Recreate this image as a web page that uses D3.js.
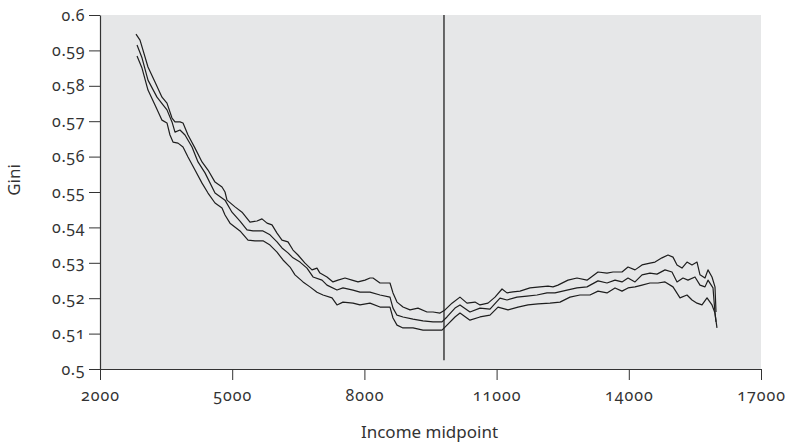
<!DOCTYPE html>
<html>
<head>
<meta charset="utf-8">
<script src="https://cdn.jsdelivr.net/npm/d3@7"></script>
<style>
  body { margin: 0; background: #fff; }
  svg text { font-family: "Noto Sans", "Open Sans", sans-serif; font-feature-settings: "onum" 1; font-variant-numeric: oldstyle-nums; fill: #333; }
</style>
</head>
<body>
<svg id="chart"></svg>
<script>
// Gini by income midpoint: estimate with upper and lower band
let xTicks = [2000, 5000, 8000, 11000, 14000, 17000]
let yTicks = [0.5, 0.51, 0.52, 0.53, 0.54, 0.55, 0.56, 0.57, 0.58, 0.59, 0.6]
let cutoff = [[9806, 0.5025], [9806, 0.6]]

let upper = [
  [2817,0.5946],[2908,0.5929],[3089,0.5853],[3248,0.5811],[3407,0.5768],[3520,0.5751],[3634,0.5709],
  [3702,0.5698],[3815,0.5698],[3884,0.5695],[3997,0.5661],[4156,0.5624],[4315,0.5585],[4451,0.5562],
  [4610,0.5528],[4769,0.5514],[4837,0.5500],[4882,0.5477],[5064,0.5458],[5223,0.5443],[5404,0.5415],
  [5563,0.5418],[5676,0.5424],[5790,0.5412],[5903,0.5407],[6017,0.5384],[6130,0.5364],[6266,0.5359],
  [6380,0.5336],[6493,0.5322],[6652,0.5299],[6811,0.5280],[6924,0.5285],[6992,0.5271],[7151,0.5260],
  [7287,0.5246],[7401,0.5251],[7560,0.5257],[7719,0.5251],[7855,0.5246],[8014,0.5251],[8127,0.5257],
  [8195,0.5257],[8354,0.5243],[8581,0.5243],[8649,0.5215],[8740,0.5189],[8876,0.5175],[9035,0.5167],
  [9216,0.5172],[9421,0.5161],[9557,0.5161],[9716,0.5158],[9829,0.5167],[9988,0.5186],[10169,0.5203],
  [10328,0.5186],[10510,0.5189],[10623,0.5181],[10805,0.5186],[10964,0.5203],[11123,0.5226],[11236,0.5215],
  [11372,0.5218],[11531,0.5220],[11758,0.5229],[11985,0.5232],[12166,0.5234],[12280,0.5232],[12393,0.5237],
  [12620,0.5251],[12824,0.5257],[13051,0.5251],[13301,0.5274],[13505,0.5271],[13642,0.5274],[13846,0.5274],
  [13982,0.5288],[14141,0.5280],[14300,0.5294],[14481,0.5299],[14595,0.5302],[14753,0.5314],[14890,0.5322],
  [15003,0.5316],[15094,0.5294],[15207,0.5285],[15321,0.5302],[15434,0.5294],[15548,0.5302],[15616,0.5266],
  [15729,0.5257],[15797,0.5280],[15888,0.5260],[15956,0.5232],[15979,0.5161]
]

let middle = [
  [2840,0.5915],[2953,0.5879],[3089,0.5816],[3293,0.5768],[3430,0.5746],[3520,0.5732],[3634,0.5698],
  [3702,0.5669],[3815,0.5675],[3929,0.5661],[4088,0.5627],[4224,0.5585],[4383,0.5554],[4610,0.5497],
  [4837,0.5477],[4995,0.5443],[5177,0.5418],[5336,0.5393],[5472,0.5390],[5699,0.5390],[5858,0.5379],
  [6017,0.5359],[6130,0.5342],[6266,0.5328],[6380,0.5314],[6539,0.5302],[6697,0.5285],[6834,0.5260],
  [7038,0.5251],[7151,0.5237],[7378,0.5223],[7514,0.5229],[7741,0.5223],[7900,0.5217],[8127,0.5217],
  [8354,0.5209],[8581,0.5203],[8649,0.5172],[8740,0.5152],[8876,0.5147],[9103,0.5141],[9330,0.5136],
  [9557,0.5133],[9761,0.5133],[9874,0.5147],[10056,0.5172],[10169,0.5181],[10396,0.5161],[10623,0.5172],
  [10850,0.5169],[11077,0.5200],[11236,0.5195],[11463,0.5203],[11690,0.5206],[11917,0.5209],[12144,0.5215],
  [12325,0.5215],[12598,0.5223],[12824,0.5229],[13051,0.5232],[13301,0.5249],[13505,0.5243],[13687,0.5251],
  [13846,0.5246],[13982,0.5257],[14141,0.5246],[14300,0.5266],[14481,0.5271],[14640,0.5268],[14822,0.5280],
  [14980,0.5274],[15094,0.5246],[15230,0.5257],[15343,0.5251],[15502,0.5260],[15616,0.5237],[15729,0.5232],
  [15797,0.5251],[15911,0.5229],[15956,0.5158],[15979,0.5133]
]

let lower = [
  [2840,0.5884],[2953,0.5850],[3089,0.5788],[3248,0.5746],[3407,0.5703],[3520,0.5695],[3588,0.5661],
  [3657,0.5641],[3770,0.5638],[3884,0.5627],[3997,0.5599],[4156,0.5562],[4315,0.5525],[4451,0.5497],
  [4610,0.5469],[4769,0.5455],[4837,0.5435],[4950,0.5412],[5177,0.5390],[5359,0.5364],[5517,0.5362],
  [5699,0.5362],[5858,0.5350],[6017,0.5330],[6153,0.5308],[6312,0.5288],[6425,0.5266],[6607,0.5246],
  [6765,0.5232],[6924,0.5217],[7060,0.5209],[7265,0.5201],[7378,0.5181],[7514,0.5189],[7741,0.5186],
  [7900,0.5181],[8127,0.5186],[8354,0.5175],[8581,0.5175],[8649,0.5144],[8740,0.5124],[8876,0.5116],
  [9103,0.5116],[9330,0.5110],[9557,0.5110],[9761,0.5110],[9874,0.5124],[10056,0.5147],[10169,0.5158],
  [10396,0.5138],[10623,0.5147],[10850,0.5152],[11032,0.5175],[11259,0.5167],[11486,0.5175],[11713,0.5181],
  [11940,0.5184],[12212,0.5186],[12439,0.5189],[12666,0.5203],[12892,0.5209],[13119,0.5209],[13301,0.5220],
  [13505,0.5215],[13687,0.5229],[13846,0.5220],[13982,0.5229],[14141,0.5232],[14300,0.5237],[14481,0.5243],
  [14663,0.5243],[14822,0.5246],[15003,0.5232],[15162,0.5201],[15321,0.5209],[15434,0.5195],[15548,0.5186],
  [15661,0.5181],[15775,0.5201],[15888,0.5181],[15956,0.5158],[16001,0.5116]
]

let margin = { top: 15, left: 100, right: 24, bottom: 76 },
  W = 785, H = 445,
  width = W - margin.left - margin.right,
  height = H - margin.top - margin.bottom

let svg = d3.select('#chart').attr('width', W).attr('height', H)
let g = svg.append('g').attr('transform', 'translate(' + margin.left + ',' + margin.top + ')')

let x = d3.scaleLinear().domain([2000, 17000]).range([0, width])
let y = d3.scaleLinear().domain([0.5, 0.6]).range([height, 0])

g.append('rect')
  .attr('width', width)
  .attr('height', height)
  .attr('fill', '#e6e7e8')

let line = d3.line().x(d => x(d[0])).y(d => y(d[1]))

g.append('path').datum(cutoff).attr('d', line)
  .attr('fill', 'none').attr('stroke', '#222').attr('stroke-width', 1.3)

;[upper, middle, lower].forEach(function(s) {
  g.append('path').datum(s).attr('d', line)
    .attr('fill', 'none')
    .attr('stroke', '#1e1e1e')
    .attr('stroke-width', 1.2)
    .attr('stroke-linejoin', 'round')
})

let xAxis = g.append('g')
  .attr('transform', 'translate(0,' + height + ')')
  .call(d3.axisBottom(x).tickValues(xTicks).tickFormat(d3.format('d')).tickSize(11).tickSizeOuter(0))
let yAxis = g.append('g')
  .call(d3.axisLeft(y).tickValues(yTicks).tickFormat(d => String(+d.toFixed(2))).tickSize(11).tickSizeOuter(0))

;[xAxis, yAxis].forEach(function(a) {
  a.select('.domain').attr('stroke', '#333').attr('stroke-width', 1.2)
  a.selectAll('.tick line').attr('stroke', '#333').attr('stroke-width', 1)
  a.selectAll('.tick text').attr('fill', '#3a3a3a').style('font-size', '16px')
})
xAxis.selectAll('.tick text').attr('dy', '0.71em').attr('y', 21).style('letter-spacing', '1px')
yAxis.selectAll('.tick text').attr('x', -15).style('letter-spacing', '0.6px')

svg.append('text')
  .attr('x', margin.left + width / 2 - 1)
  .attr('y', 438)
  .attr('text-anchor', 'middle')
  .attr('fill', '#3a3a3a')
  .style('font-size', '17px')
  .text('Income midpoint')

svg.append('text')
  .attr('transform', 'translate(20,' + (margin.top + height / 2 - 12) + ') rotate(-90)')
  .attr('text-anchor', 'middle')
  .attr('fill', '#3a3a3a')
  .style('font-size', '17px')
  .text('Gini')
</script>
</body>
</html>
